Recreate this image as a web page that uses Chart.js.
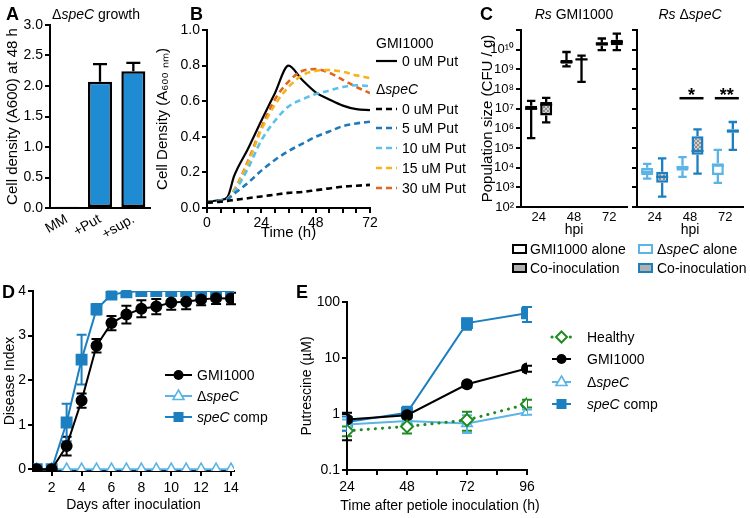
<!DOCTYPE html>
<html>
<head>
<meta charset="utf-8">
<script src="https://cdn.jsdelivr.net/npm/chart.js@4.4.1/dist/chart.umd.min.js"></script>
<style>
  body { margin: 0; background: #fff; }
  #wrap { position: relative; width: 750px; height: 518px; overflow: hidden; font-family: 'Liberation Sans', Arial, sans-serif; color: #000; }
  .t { position: absolute; white-space: nowrap; font-size: 14px; line-height: 14px; z-index: 3; }
  .c { transform: translateX(-50%); }
  .L { position: absolute; font-weight: bold; font-size: 18px; line-height: 18px; z-index: 3; }
  svg { position: absolute; left: 0; top: 0; z-index: 2; }
</style>
</head>
<body>
<div id="wrap">
  <div class="L" style="left:6px;top:5px">A</div>
  <div class="L" style="left:190px;top:5px">B</div>
  <div class="L" style="left:480px;top:5px">C</div>
  <div class="L" style="left:2px;top:283px">D</div>
  <div class="L" style="left:296px;top:283px">E</div>

  <div class="t c" style="left:96px;top:7px">Δ<i>speC</i> growth</div>
  <div class="t c" style="left:574px;top:7px"><i>Rs</i> GMI1000</div>
  <div class="t c" style="left:690px;top:7px"><i>Rs</i> Δ<i>speC</i></div>
  <div class="t c" style="left:440px;top:498px">Time after petiole inoculation (h)</div>

  <!-- B legend -->
  <div class="t" style="left:376px;top:36px">GMI1000</div>
  <div class="t" style="left:402px;top:54px">0 uM Put</div>
  <div class="t" style="left:376px;top:82px">Δ<i>speC</i></div>
  <div class="t" style="left:402px;top:102px">0 uM Put</div>
  <div class="t" style="left:402px;top:121px">5 uM Put</div>
  <div class="t" style="left:402px;top:141px">10 uM Put</div>
  <div class="t" style="left:402px;top:161px">15 uM Put</div>
  <div class="t" style="left:402px;top:181px">30 uM Put</div>

  <!-- C legend -->
  <div class="t" style="left:530px;top:242px">GMI1000 alone</div>
  <div class="t" style="left:530px;top:261px">Co-inoculation</div>
  <div class="t" style="left:657px;top:242px">Δ<i>speC</i> alone</div>
  <div class="t" style="left:657px;top:261px">Co-inoculation</div>

  <!-- D legend -->
  <div class="t" style="left:197px;top:368px">GMI1000</div>
  <div class="t" style="left:197px;top:389px">Δ<i>speC</i></div>
  <div class="t" style="left:197px;top:410px"><i>speC</i> comp</div>

  <!-- E legend -->
  <div class="t" style="left:587px;top:330px">Healthy</div>
  <div class="t" style="left:587px;top:352px">GMI1000</div>
  <div class="t" style="left:587px;top:375px">Δ<i>speC</i></div>
  <div class="t" style="left:587px;top:397px"><i>speC</i> comp</div>

  <svg width="750" height="518">
    <!-- B legend lines -->
    <line x1="376" y1="61" x2="397" y2="61" stroke="#000" stroke-width="2.2"/>
    <line x1="376" y1="109" x2="397" y2="109" stroke="#000" stroke-width="2.5" stroke-dasharray="6 4"/>
    <line x1="376" y1="128" x2="397" y2="128" stroke="#1f78b9" stroke-width="2.5" stroke-dasharray="6 4"/>
    <line x1="376" y1="148" x2="397" y2="148" stroke="#5cc0ec" stroke-width="2.5" stroke-dasharray="6 4"/>
    <line x1="376" y1="168" x2="397" y2="168" stroke="#f5b51a" stroke-width="2.5" stroke-dasharray="6 4"/>
    <line x1="376" y1="188" x2="397" y2="188" stroke="#e0661e" stroke-width="2.5" stroke-dasharray="6 4"/>
    <!-- C legend boxes -->
    <rect x="513" y="245" width="13" height="8" fill="#fff" stroke="#000" stroke-width="2"/>
    <rect x="513" y="264" width="13" height="8" fill="#b0b0b0" stroke="#000" stroke-width="2"/>
    <rect x="639" y="245" width="13" height="8" fill="#fff" stroke="#5ab4e6" stroke-width="2"/>
    <rect x="639" y="264" width="13" height="8" fill="#b0b0b0" stroke="#1c7fc0" stroke-width="2"/>
    <!-- D legend -->
    <line x1="165" y1="375" x2="192" y2="375" stroke="#000" stroke-width="2"/>
    <circle cx="178.5" cy="375" r="5" fill="#000"/>
    <line x1="165" y1="396" x2="192" y2="396" stroke="#5ab4e6" stroke-width="2"/>
    <polygon points="178.5,390 184,399.5 173,399.5" fill="#fff" stroke="#5ab4e6" stroke-width="1.6"/>
    <line x1="165" y1="417" x2="192" y2="417" stroke="#1c7fc0" stroke-width="2"/>
    <rect x="173.5" y="412" width="10" height="10" fill="#1c7fc0"/>
    <!-- E legend -->
    <line x1="552" y1="337" x2="571" y2="337" stroke="#1e8c1e" stroke-width="3" stroke-dasharray="0.1 6" stroke-linecap="round"/>
    <polygon points="561.5,331.5 567,337 561.5,342.5 556,337" fill="#fff" stroke="#1e8c1e" stroke-width="2"/>
    <line x1="552" y1="359" x2="571" y2="359" stroke="#000" stroke-width="2"/>
    <circle cx="561.5" cy="359" r="5" fill="#000"/>
    <line x1="552" y1="382" x2="571" y2="382" stroke="#5ab4e6" stroke-width="2"/>
    <polygon points="561.5,376 567,385.5 556,385.5" fill="#fff" stroke="#5ab4e6" stroke-width="1.6"/>
    <line x1="552" y1="404" x2="571" y2="404" stroke="#1c7fc0" stroke-width="2"/>
    <rect x="556.5" y="399" width="10" height="10" fill="#1c7fc0"/>
  </svg>
</div>

<script>
// ---------- A : growth at 48 h
const mediaA = ['MM', '+Put', '+sup.'];
const densityA = [0.02, 2.07, 2.24];
const densityAUpper = [0.02, 2.36, 2.38];

// ---------- B : growth curves (A600)
const timeB = [0, 6, 9, 12, 18, 24, 30, 36, 42, 48, 54, 60, 66, 72];
const wtPut0 = [0.035, 0.045, 0.06, 0.18, 0.33, 0.49, 0.645, 0.80, 0.72, 0.65, 0.61, 0.575, 0.555, 0.55];
const spePut0 = [0.03, 0.035, 0.04, 0.045, 0.055, 0.065, 0.075, 0.085, 0.09, 0.10, 0.11, 0.12, 0.125, 0.13];
const spePut5 = [0.03, 0.04, 0.05, 0.08, 0.14, 0.21, 0.27, 0.32, 0.36, 0.40, 0.43, 0.46, 0.475, 0.485];
const spePut10 = [0.03, 0.04, 0.05, 0.09, 0.22, 0.38, 0.49, 0.57, 0.61, 0.64, 0.66, 0.68, 0.69, 0.685];
const spePut15 = [0.03, 0.04, 0.05, 0.10, 0.25, 0.44, 0.58, 0.68, 0.745, 0.77, 0.775, 0.765, 0.745, 0.73];
const spePut30 = [0.03, 0.04, 0.05, 0.10, 0.26, 0.45, 0.61, 0.71, 0.77, 0.78, 0.76, 0.72, 0.68, 0.645];

// ---------- C : population size, box = [min, q1, median, q3, max] per hpi
const hpi = ['24', '48', '72'];
const gmiAlone = [[3.2e5, 8.9e6, 1.0e7, 1.4e7, 2.5e7], [1.4e9, 1.9e9, 2.4e9, 3.0e9, 7.6e9], [9.5e9, 1.6e10, 2.0e10, 2.4e10, 3.7e10]];
const gmiCo = [[2.0e6, 4.5e6, 1.6e7, 2.2e7, 3.5e7], [2.3e8, 3.0e9, 3.2e9, 3.4e9, 5.0e9], [9.5e9, 1.7e10, 2.4e10, 3.2e10, 6.5e10]];
const speAlone = [[2.8e3, 4.2e3, 6.2e3, 1.0e4, 1.55e4], [3.4e3, 6.9e3, 1.0e4, 1.26e4, 3.4e4], [1.7e3, 4.2e3, 1.26e4, 1.7e4, 8.1e4]];
const speCo = [[340, 1.7e3, 3.4e3, 6.2e3, 3.0e4], [5.0e3, 4.6e4, 7.1e4, 4.0e5, 8.9e5], [8.1e4, 6.0e5, 7.2e5, 8.9e5, 2.1e6]];
const cfuTicks = [1e2, 1e3, 1e4, 1e5, 1e6, 1e7, 1e8, 1e9, 1e10, 1e11];
const sigHpi = [1, 2];
const sigMarks = ['*', '**'];
const sigLevel = 3.4e7;

// ---------- D : disease index
const days = [1, 2, 3, 4, 5, 6, 7, 8, 9, 10, 11, 12, 13, 14];
const gmiDisease = [0, 0, 0.52, 1.54, 2.77, 3.28, 3.47, 3.6, 3.65, 3.74, 3.76, 3.81, 3.84, 3.83];
const gmiDiseaseSem = [0, 0, 0.21, 0.16, 0.15, 0.16, 0.2, 0.19, 0.17, 0.16, 0.17, 0.13, 0.13, 0.13];
const compDisease = [0, 0, 1.05, 2.46, 3.59, 3.92, 3.97, 4, 4, 4, 4, 4, 4, 4];
const compDiseaseSem = [0, 0, 0.42, 0.56, 0.12, 0.07, 0.03, 0, 0, 0, 0, 0, 0, 0];
const deltaDisease = [0, 0, 0, 0, 0, 0, 0, 0, 0, 0, 0, 0, 0, 0];

// ---------- E : putrescine (uM)
const hoursE = [24, 48, 72, 96];
const healthyPut = [0.5, 0.6, 0.78, 1.5];
const healthyLo = [0.4, 0.45, 0.5, 1.3];
const healthyHi = [0.6, 0.8, 1.1, 1.8];
const gmiPut = [0.8, 0.95, 3.4, 6.5];
const gmiLo = [0.34, 0.7, 3.0, 5.7];
const gmiHi = [1.05, 1.2, 3.8, 7.3];
const deltaPut = [0.65, 0.75, 0.68, 1.08];
const deltaLo = [0.5, 0.62, 0.46, 0.97];
const deltaHi = [0.8, 0.9, 0.95, 1.2];
const compPut = [0.72, 1.05, 42, 63];
const compLo = [0.5, 0.85, 32, 44];
const compHi = [0.9, 1.35, 50, 81];

const F = "'Liberation Sans', Arial, sans-serif";
const FN = "'Liberation Sans Narrow', 'Arial Narrow', 'Liberation Sans', Arial, sans-serif";
Chart.defaults.font.family = F;
Chart.defaults.color = '#000';

const BLACK = '#000', LBLUE = '#5ab4e6', DBLUE = '#1c7fc0', GREEN = '#1e8c1e';

// axis with black line and outward ticks, no grid
function ax(o, t) {
  const a = Object.assign({
    border: { color: '#000', width: 2 },
    grid: { drawOnChartArea: false, color: '#000', lineWidth: 2, tickLength: 5 }
  }, o);
  a.ticks = Object.assign({ color: '#000', font: { family: FN, size: 14 }, padding: 2, autoSkip: false }, t || {});
  return a;
}
const noTicks = { display: false, drawTicks: false, tickLength: 0 };
function ttl(text, size, fam) {
  return { display: true, text: text, color: '#000', font: { family: fam || F, size: size || 15 }, padding: { top: 2, bottom: 2 } };
}
function xy(xs, ys) { return xs.map((x, i) => ({ x: x, y: ys[i] })); }

function place(left, top, w, h, yW, xH, pad, config) {
  const c = document.createElement('canvas');
  c.width = w; c.height = h;
  c.style.cssText = 'position:absolute;left:' + left + 'px;top:' + top + 'px;width:' + w + 'px;height:' + h + 'px';
  document.getElementById('wrap').appendChild(c);
  const o = config.options;
  o.responsive = false;
  o.animation = false;
  o.devicePixelRatio = 1;
  o.layout = { padding: pad };
  o.plugins = { legend: { display: false }, tooltip: { enabled: false } };
  o.scales.y.afterFit = s => { s.width = yW; };
  o.scales.x.afterFit = s => { s.height = xH; };
  return new Chart(c, config);
}

// error bars from ds.errLo / ds.errHi (data units)
const errBars = {
  id: 'errBars',
  afterDatasetsDraw(chart) {
    const ctx = chart.ctx, ys = chart.scales.y;
    chart.data.datasets.forEach((ds, i) => {
      if (!ds.errHi) return;
      const meta = chart.getDatasetMeta(i);
      ctx.save();
      ctx.strokeStyle = ds.errColor || ds.borderColor;
      ctx.lineWidth = ds.errWidth || 2;
      meta.data.forEach((el, j) => {
        const hi = ys.getPixelForValue(ds.errHi[j]);
        const lo = ds.errLo ? ys.getPixelForValue(ds.errLo[j]) : el.y;
        if (Math.abs(lo - hi) < 1.5) return;
        const w = ds.capW || 5;
        ctx.beginPath();
        ctx.moveTo(el.x, lo); ctx.lineTo(el.x, hi);
        ctx.moveTo(el.x - w, hi); ctx.lineTo(el.x + w, hi);
        if (ds.errLo) { ctx.moveTo(el.x - w, lo); ctx.lineTo(el.x + w, lo); }
        ctx.stroke();
      });
      ctx.restore();
    });
  }
};
const errUnder = { id: 'errUnder', beforeDatasetsDraw: errBars.afterDatasetsDraw };

// box plot whiskers and medians on top of floating bars
const boxes = {
  id: 'boxes',
  afterDatasetsDraw(chart) {
    const ctx = chart.ctx, ys = chart.scales.y;
    chart.data.datasets.forEach((ds, i) => {
      const meta = chart.getDatasetMeta(i);
      ctx.save();
      ctx.strokeStyle = ds.borderColor;
      ctx.lineWidth = 2.3;
      meta.data.forEach((el, j) => {
        const b = ds.box[j], x = el.x, hw = el.width / 2, cw = hw * 0.7;
        const p = b.map(v => ys.getPixelForValue(v));
        ctx.beginPath();
        ctx.moveTo(x, p[0]); ctx.lineTo(x, p[1]);
        ctx.moveTo(x, p[3]); ctx.lineTo(x, p[4]);
        ctx.moveTo(x - cw, p[0]); ctx.lineTo(x + cw, p[0]);
        ctx.moveTo(x - cw, p[4]); ctx.lineTo(x + cw, p[4]);
        ctx.moveTo(x - hw, p[2]); ctx.lineTo(x + hw, p[2]);
        ctx.stroke();
      });
      ctx.restore();
    });
  }
};

// significance bars in the speC panel
const sig = {
  id: 'sig',
  afterDatasetsDraw(chart) {
    const ctx = chart.ctx, ys = chart.scales.y;
    const a = chart.getDatasetMeta(0), b = chart.getDatasetMeta(1);
    const y = ys.getPixelForValue(sigLevel);
    ctx.save();
    ctx.strokeStyle = '#000'; ctx.fillStyle = '#000'; ctx.lineWidth = 2.5;
    ctx.font = 'bold 18px ' + F; ctx.textAlign = 'center'; ctx.textBaseline = 'alphabetic';
    sigHpi.forEach((c, k) => {
      const x1 = a.data[c].x - 3, x2 = b.data[c].x + 6;
      ctx.beginPath(); ctx.moveTo(x1, y); ctx.lineTo(x2, y); ctx.stroke();
      ctx.fillText(sigMarks[k], (x1 + x2) / 2, y + 3);
    });
    ctx.restore();
  }
};

// grey checker used for co-inoculation boxes
function checker() {
  const p = document.createElement('canvas');
  p.width = 4; p.height = 4;
  const g = p.getContext('2d');
  g.fillStyle = '#cfcfcf'; g.fillRect(0, 0, 4, 4);
  g.fillStyle = '#8c8c8c'; g.fillRect(0, 0, 2, 2); g.fillRect(2, 2, 2, 2);
  return g.createPattern(p, 'repeat');
}
const checkFill = checker();

// ================= A
place(2, 0, 150, 250, 48, 42, { top: 25, right: 2, left: 0, bottom: 0 }, {
  type: 'bar',
  data: {
    labels: mediaA,
    datasets: [{
      data: densityA, errHi: densityAUpper, errColor: '#000', errWidth: 2.3, capW: 7,
      backgroundColor: '#1f8bd2', borderColor: '#000', borderWidth: 2.5, borderSkipped: false,
      barPercentage: 0.72, categoryPercentage: 1
    }]
  },
  options: {
    scales: {
      x: ax({ grid: noTicks }, { minRotation: 30, maxRotation: 30, padding: 3 }),
      y: ax({ min: 0, max: 3, title: ttl('Cell density (A600) at 48 h', 15) },
            { stepSize: 0.5, callback: v => v.toFixed(1) })
    }
  },
  plugins: [errBars]
});

// ================= B
const dash = [6, 4];
place(152, 0, 228, 244, 55, 36, { top: 30, right: 10, left: 0, bottom: 0 }, {
  type: 'line',
  data: {
    datasets: [
      { data: xy(timeB, spePut0), borderColor: BLACK, borderDash: dash },
      { data: xy(timeB, spePut5), borderColor: '#1f78b9', borderDash: dash },
      { data: xy(timeB, spePut10), borderColor: '#5cc0ec', borderDash: dash },
      { data: xy(timeB, spePut15), borderColor: '#f5b51a', borderDash: dash },
      { data: xy(timeB, spePut30), borderColor: '#e0661e', borderDash: dash },
      { data: xy(timeB, wtPut0), borderColor: BLACK, borderWidth: 2.2 }
    ].map(d => Object.assign({ borderWidth: 2.6, pointRadius: 0, cubicInterpolationMode: 'monotone', fill: false }, d))
  },
  options: {
    scales: {
      x: ax({ type: 'linear', min: 0, max: 72, title: ttl('Time (h)', 15, FN) },
            { stepSize: 6, maxRotation: 0, minRotation: 0, callback: v => (v % 24 === 0 ? v : '') }),
      y: ax({ min: 0, max: 1, title: ttl('Cell Density (A₆₀₀ ₙₘ)', 15, FN) },
            { stepSize: 0.2, callback: v => v.toFixed(1) })
    }
  }
});

// ================= C
const sup = '⁰¹²³⁴⁵⁶⁷⁸⁹';
function cfuLabel(v) {
  const e = Math.round(Math.log10(v));
  if (e > 10) return '';
  return '10' + String(e).split('').map(d => sup[d]).join('');
}
function boxSet(box, edge, fill) {
  return {
    data: box.map(b => [b[1], b[3]]), box: box,
    backgroundColor: fill, borderColor: edge, borderWidth: 2.5, borderSkipped: false,
    barPercentage: 0.8, categoryPercentage: 0.85
  };
}
function cfuAxis(withLabels) {
  return ax({
    type: 'logarithmic', min: 100, max: 1e11,
    title: withLabels ? ttl('Population size (CFU / g)', 15) : { display: false },
    afterBuildTicks: s => { s.ticks = cfuTicks.map(v => ({ value: v })); }
  }, { font: { family: F, size: 13 }, callback: v => (withLabels ? cfuLabel(v) : '') });
}
const hpiAxis = () => ax({ grid: noTicks, title: ttl('hpi', 14) },
                         { font: { family: F, size: 13 }, padding: 3, maxRotation: 0, minRotation: 0 });
place(477, 0, 153, 241, 44, 34, { top: 30, right: 3, left: 0, bottom: 0 }, {
  type: 'bar',
  data: { labels: hpi, datasets: [boxSet(gmiAlone, BLACK, '#fff'), boxSet(gmiCo, BLACK, checkFill)] },
  options: { scales: { x: hpiAxis(), y: cfuAxis(true) } },
  plugins: [boxes]
});
place(625, 0, 125, 241, 12, 34, { top: 30, right: 7, left: 0, bottom: 0 }, {
  type: 'bar',
  data: { labels: hpi, datasets: [boxSet(speAlone, LBLUE, '#fff'), boxSet(speCo, DBLUE, checkFill)] },
  options: { scales: { x: hpiAxis(), y: cfuAxis(false) } },
  plugins: [boxes, sig]
});

// ================= D
place(0, 270, 245, 246, 33, 45, { top: 21, right: 11, left: 0, bottom: 0 }, {
  type: 'line',
  data: {
    datasets: [
      { data: xy(days, gmiDisease), borderColor: BLACK, pointBackgroundColor: BLACK, pointStyle: 'circle', pointRadius: 5,
        errLo: gmiDisease.map((m, i) => m - gmiDiseaseSem[i]), errHi: gmiDisease.map((m, i) => m + gmiDiseaseSem[i]) },
      { data: xy(days, compDisease), borderColor: DBLUE, pointBackgroundColor: DBLUE, pointStyle: 'rect', pointRadius: 7,
        errLo: compDisease.map((m, i) => m - compDiseaseSem[i]), errHi: compDisease.map((m, i) => m + compDiseaseSem[i]) },
      { data: xy(days, deltaDisease), borderColor: LBLUE, pointBackgroundColor: '#fff', pointStyle: 'triangle', pointRadius: 6, pointBorderWidth: 1.6 }
    ].map(d => Object.assign({ borderWidth: 2, pointBorderColor: d.borderColor, tension: 0, fill: false }, d))
  },
  options: {
    scales: {
      x: ax({ type: 'linear', min: 0.75, max: 14.2, title: ttl('Days after inoculation', 14),
              afterBuildTicks: s => { s.ticks = [2, 4, 6, 8, 10, 12, 14].map(v => ({ value: v })); } },
            { maxRotation: 0, minRotation: 0, padding: 4 }),
      y: ax({ min: -0.04, max: 4, title: ttl('Disease Index', 14),
              afterBuildTicks: s => { s.ticks = [0, 1, 2, 3, 4].map(v => ({ value: v })); } })
    }
  },
  plugins: [errUnder]
});

// ================= E
place(297, 270, 243, 246, 50, 46, { top: 32, right: 13, left: 0, bottom: 0 }, {
  type: 'line',
  data: {
    datasets: [
      { data: xy(hoursE, healthyPut), borderColor: GREEN, borderWidth: 3, borderDash: [0.1, 7], borderCapStyle: 'round',
        pointStyle: 'rectRot', pointRadius: 6, pointBackgroundColor: '#fff', pointBorderWidth: 2, errLo: healthyLo, errHi: healthyHi },
      { data: xy(hoursE, gmiPut), borderColor: BLACK, pointStyle: 'circle', pointRadius: 5, pointBackgroundColor: BLACK,
        errLo: gmiLo, errHi: gmiHi },
      { data: xy(hoursE, deltaPut), borderColor: LBLUE, pointStyle: 'triangle', pointRadius: 6, pointBackgroundColor: '#fff',
        pointBorderWidth: 1.6, errLo: deltaLo, errHi: deltaHi },
      { data: xy(hoursE, compPut), borderColor: DBLUE, pointStyle: 'rect', pointRadius: 7, pointBackgroundColor: DBLUE,
        errLo: compLo, errHi: compHi }
    ].map(d => Object.assign({ borderWidth: 2, pointBorderColor: d.borderColor, tension: 0, fill: false }, d))
  },
  options: {
    scales: {
      x: ax({ type: 'linear', min: 24, max: 96,
              afterBuildTicks: s => { s.ticks = [24, 36, 48, 60, 72, 84, 96].map(v => ({ value: v })); } },
            { maxRotation: 0, minRotation: 0, padding: 4, callback: v => (v % 24 === 0 ? v : '') }),
      y: ax({ type: 'logarithmic', min: 0.1, max: 100, title: ttl('Putrescine (µM)', 14),
              afterBuildTicks: s => { s.ticks = [0.1, 1, 10, 100].map(v => ({ value: v })); } },
            { callback: v => String(v) })
    }
  },
  plugins: [errUnder]
});
</script>
</body>
</html>
